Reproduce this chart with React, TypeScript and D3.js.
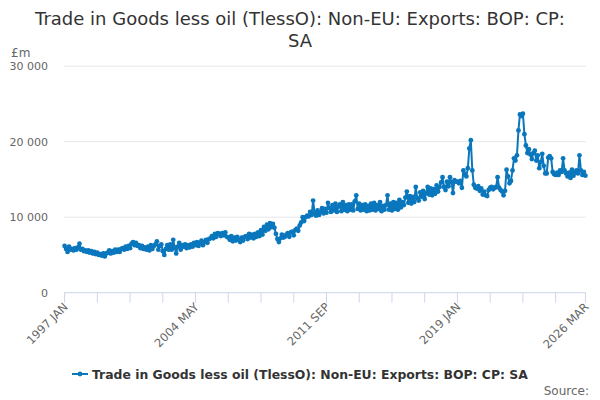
import React from "react";
import * as d3 from "d3";

const title1 = "Trade in Goods less oil (TlessO): Non-EU: Exports: BOP: CP:";
const title2 = "SA";
const seriesName = "Trade in Goods less oil (TlessO): Non-EU: Exports: BOP: CP: SA";
const monthNames = ["JAN", "FEB", "MAR", "APR", "MAY", "JUN", "JUL", "AUG", "SEP", "OCT", "NOV", "DEC"];
const startYear = 1997;

const values: number[] = [
  // 1997
  6200, 5800, 5400, 6100, 5700, 5800, 5600, 5900, 5700, 6000, 6500, 5700,
  // 1998
  5800, 5500, 5600, 5400, 5600, 5300, 5500, 5200, 5400, 5100, 5300, 5000,
  // 1999
  5100, 4900, 5200, 4800, 5200, 5300, 5600, 5200, 5500, 5300, 5700, 5400,
  // 2000
  5700, 5400, 5800, 5900, 5700, 6100, 5800, 6200, 5900, 6500, 6700, 6300,
  // 2001
  6600, 6200, 6300, 5900, 6200, 5800, 6000, 5700, 6100, 5600, 6300, 5800,
  // 2002
  6200, 6400, 6800, 5700, 6200, 6400, 5500, 5000, 5800, 6300, 5700, 6400,
  // 2003
  5700, 7000, 6000, 5200, 6100, 6600, 5700, 6300, 6100, 6400, 5900, 6300,
  // 2004
  6000, 6400, 6100, 6600, 6300, 6700, 6200, 6600, 6900, 6300, 6700, 7000,
  // 2005
  6600, 7100, 7200, 7500, 7200, 7800, 7400, 7900, 7800, 7500, 7900, 7600,
  // 2006
  8000, 7400, 7300, 7000, 7500, 6800, 7300, 6900, 7400, 7000, 6700, 7300,
  // 2007
  6900, 7400, 7500, 7100, 7800, 7300, 7700, 7200, 7800, 7400, 8000, 7500,
  // 2008
  8300, 7700, 8700, 8200, 9000, 8400, 9200, 8700, 9100, 8600, 7800, 7100,
  // 2009
  6700, 7200, 7700, 7300, 7400, 7700, 7900, 7400, 8000, 8100, 7600, 8300,
  // 2010
  8500, 8200, 8900, 9300, 10000, 9500, 10000, 10200, 10100, 10700, 10300, 12200,
  // 2011
  10600, 10200, 10900, 10300, 10700, 11200, 10500, 11100, 10600, 11900, 11200, 10700,
  // 2012
  11600, 10900, 11800, 10700, 11400, 11700, 10800, 12000, 11000, 11600, 10800, 11700,
  // 2013
  11000, 11700, 10900, 12100, 12900, 11100, 11800, 10900, 11600, 11000, 11700, 10800,
  // 2014
  11500, 10900, 11800, 11000, 11900, 10900, 11600, 11100, 12000, 10800, 11500, 11000,
  // 2015
  11600, 12900, 11000, 11800, 10900, 12000, 11100, 11900, 11000, 12300, 11300, 12000,
  // 2016
  11600, 12600, 13400, 11900, 12800, 11800, 12700, 12000, 14000, 12500, 12200, 13300,
  // 2017
  12700, 13500, 12400, 13200, 14000, 13000, 13800, 12900, 13700, 13100, 14200, 13400,
  // 2018
  14000, 14600, 15300, 14000, 13600, 14700, 14100, 15300, 14600, 13200, 14900, 14700,
  // 2019
  14700, 14500, 14800, 13900, 16200, 15700, 15400, 16500, 19100, 20200, 16200, 14300,
  // 2020
  13900, 13800, 14100, 13500, 13800, 13000, 13400, 12900, 12800, 13600, 13900, 14000,
  // 2021
  13700, 13900, 14000, 15300, 13900, 13600, 13400, 12900, 13500, 16300, 15400, 14500,
  // 2022
  14800, 16200, 17800, 17500, 18200, 21500, 23600, 23400, 23700, 21000, 19500, 18500,
  // 2023
  19000, 18300, 17700, 18500, 18800, 17500, 18200, 16500, 17300, 18400, 16800, 15800,
  // 2024
  15800, 17900, 18100, 17800, 16000, 15700, 15600, 15900, 15600, 16200, 16000, 17800,
  // 2025
  16200, 15800, 15400, 15900, 15200, 16300, 15500, 15900, 16200, 15800, 18200, 16200,
  // 2026
  15600, 16000, 15500,
];

const categories: string[] = values.map((_, i) => `${startYear + Math.floor(i / 12)} ${monthNames[i % 12]}`);
const yTicks = [0, 10000, 20000, 30000];
const tickStep = 22;
const labelStep = 88;

const W = 600;
const H = 400;
const font = "'DejaVu Sans', sans-serif";
const lineColor = "#0a77bd";

export default function App() {
  const n = values.length;
  const x = d3.scaleLinear().domain([0, n - 1]).range([64.6, 585.4]);
  const y = d3.scaleLinear().domain([0, 30000]).range([292.7, 66.2]);
  const line = d3.line<number>().x((_, i) => x(i)).y((d) => y(d));

  const tickIdx: number[] = [];
  for (let i = 0; i < n; i += tickStep) tickIdx.push(i);
  if (tickIdx[tickIdx.length - 1] !== n - 1) tickIdx.push(n - 1);
  const labelIdx = tickIdx.filter((i) => i % labelStep === 0 || i === n - 1);
  const fmt = (v: number) => d3.format(",")(v).replace(/,/g, " ");

  return (
    <svg width={W} height={H} style={{ position: "absolute", left: 0, top: 0, fontFamily: font }}>
      <rect width={W} height={H} fill="#fff" />
      <text x={300} y={25} textAnchor="middle" fontSize={18} fill="#333">{title1}</text>
      <text x={300} y={47} textAnchor="middle" fontSize={18} fill="#333">{title2}</text>
      <text x={11} y={57} fontSize={12} fill="#666">£m</text>
      {yTicks.map((t) => (
        <g key={t}>
          {t > 0 && <line x1={64} x2={585.5} y1={y(t)} y2={y(t)} stroke="#e6e6e6" strokeWidth={1} />}
          <text x={48} y={y(t) + 4} textAnchor="end" fontSize={11} fill="#666">{fmt(t)}</text>
        </g>
      ))}
      <line x1={64} x2={586} y1={y(0)} y2={y(0)} stroke="#ccd6eb" strokeWidth={1} />
      {tickIdx.map((i) => (
        <line key={i} x1={x(i)} x2={x(i)} y1={y(0)} y2={y(0) + 10} stroke="#ccd6eb" strokeWidth={1} />
      ))}
      {labelIdx.map((i) => (
        <text key={i} transform={`translate(${x(i) + 4},${y(0) + 15}) rotate(-45)`} textAnchor="end" fontSize={11.5} fill="#666">
          {categories[i]}
        </text>
      ))}
      <path d={line(values) || ""} fill="none" stroke={lineColor} strokeWidth={2} strokeLinejoin="round" />
      {values.map((v, i) => (
        <circle key={i} cx={x(i)} cy={y(v)} r={2.4} fill={lineColor} />
      ))}
      <g>
        <line x1={72} x2={88} y1={374} y2={374} stroke={lineColor} strokeWidth={2} />
        <circle cx={80} cy={374} r={2.4} fill={lineColor} />
        <text x={92} y={378.5} fontSize={12.4} fontWeight="bold" fill="#333">{seriesName}</text>
      </g>
      <text x={589} y={395} textAnchor="end" fontSize={12} fill="#666">Source:</text>
    </svg>
  );
}
